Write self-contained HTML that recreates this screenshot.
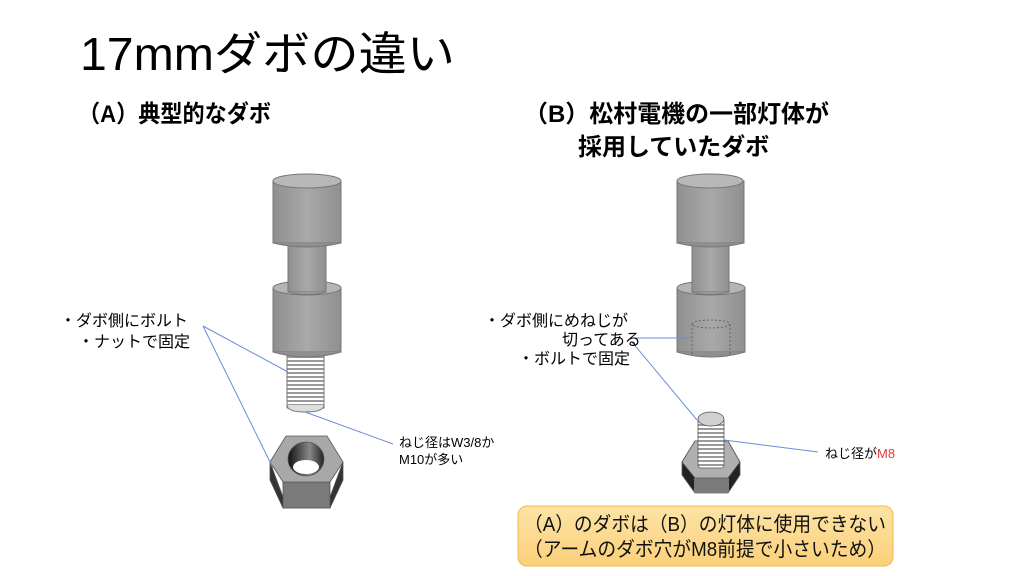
<!DOCTYPE html>
<html><head><meta charset="utf-8"><style>
html,body{margin:0;padding:0;background:#fff;}
svg{display:block;}
text{font-family:"Liberation Sans","Noto Sans CJK JP",sans-serif;}
</style></head><body>
<svg width="1024" height="576" viewBox="0 0 1024 576" xmlns="http://www.w3.org/2000/svg">
<defs>
<linearGradient id="cyl" x1="0" x2="1" y1="0" y2="0">
<stop offset="0" stop-color="#8f8f8f"/><stop offset="0.5" stop-color="#a9a9a9"/><stop offset="1" stop-color="#8f8f8f"/></linearGradient>
<linearGradient id="hole" x1="0" x2="1"><stop offset="0" stop-color="#111"/><stop offset="0.6" stop-color="#888"/><stop offset="1" stop-color="#222"/></linearGradient>
<linearGradient id="box" x1="0" y1="0" x2="0" y2="1"><stop offset="0" stop-color="#fde3a6"/><stop offset="1" stop-color="#fbd07a"/></linearGradient>
<pattern id="thr" width="10" height="4" patternUnits="userSpaceOnUse"><rect width="10" height="4" fill="#fff"/><rect width="10" height="2" fill="#9a9a9a"/></pattern>
</defs>

<text x="80" y="70" font-size="46" fill="#000" textLength="375" lengthAdjust="spacingAndGlyphs">17mmダボの違い</text>
<text x="78" y="122" font-size="24" font-weight="bold" fill="#000" textLength="193" lengthAdjust="spacingAndGlyphs">（A）典型的なダボ</text>
<text x="524" y="122" font-size="24" font-weight="bold" fill="#000" textLength="305" lengthAdjust="spacingAndGlyphs">（B）松村電機の一部灯体が</text>
<text x="578" y="155" font-size="24" font-weight="bold" fill="#000">採用していたダボ</text>

<!-- Left dowel -->
<g stroke="#777" stroke-width="1">
<rect x="287" y="352" width="37" height="56" fill="url(#thr)"/>
<path d="M287 405 Q287 412 305 412 Q324 412 324 405" fill="#ddd"/>
<rect x="273" y="288" width="68" height="64" fill="url(#cyl)"/>
<path d="M273 352 Q307 362 341 352" fill="#8f8f8f"/>
<ellipse cx="307" cy="288" rx="34" ry="7" fill="#b5b5b5"/>
<rect x="288" y="242" width="38" height="50" fill="url(#cyl)"/>
<path d="M288 292 Q307 297 326 292" fill="#999"/>
<rect x="273" y="181" width="68" height="62" fill="url(#cyl)"/>
<path d="M273 243 Q307 251 341 243" fill="#8f8f8f"/>
<ellipse cx="307" cy="181" rx="34" ry="7" fill="#b8b8b8"/>
</g>
<!-- Left nut -->
<g stroke="#555" stroke-width="0.8">
<polygon points="270,462 283,497 330,497 343,462 343,480 330,508 283,508 270,480" fill="#333"/>
<rect x="283" y="482" width="47" height="26" fill="#7a7a7a"/>
<polygon points="270,462 286,436 327,436 343,462 330,482 283,482" fill="#a8a8a8"/>
<ellipse cx="306" cy="459" rx="18" ry="17" fill="url(#hole)"/>
<ellipse cx="306" cy="467" rx="13" ry="7" fill="#fff" stroke="none"/>
</g>

<!-- Right dowel -->
<g stroke="#777" stroke-width="1">
<rect x="677" y="288" width="68" height="64" fill="url(#cyl)"/>
<path d="M677 352 Q711 362 745 352" fill="#8f8f8f"/>
<ellipse cx="711" cy="288" rx="34" ry="7" fill="#b5b5b5"/>
<rect x="692" y="242" width="37" height="50" fill="url(#cyl)"/>
<path d="M692 292 Q710 297 729 292" fill="#999"/>
<rect x="677" y="181" width="67" height="62" fill="url(#cyl)"/>
<path d="M677 243 Q710 251 744 243" fill="#8f8f8f"/>
<ellipse cx="710" cy="181" rx="33" ry="7" fill="#b8b8b8"/>
</g>
<g fill="none" stroke="#555" stroke-width="0.8" stroke-dasharray="2,2">
<ellipse cx="711" cy="324" rx="19" ry="4"/>
<path d="M692 324 V355 M730 324 V355"/>
</g>
<!-- Right bolt hex -->
<g stroke="#555" stroke-width="0.8">
<polygon points="682,462 695,441 728,441 740,462 740,475 728,493 695,493 682,475" fill="#222"/>
<rect x="694" y="478" width="35" height="15" fill="#7a7a7a" stroke="none"/>
<polygon points="682,462 695,441 728,441 740,462 728,478 695,478" fill="#b0b0b0"/>
<rect x="698" y="418" width="26" height="50" rx="3" fill="url(#thr)"/>
<ellipse cx="711" cy="419" rx="13" ry="7" fill="#d0d0d0"/>
</g>

<!-- Leader lines -->
<g stroke="#6b8ed6" stroke-width="1" fill="none">
<line x1="203" y1="326" x2="288" y2="372"/>
<line x1="203" y1="326" x2="273" y2="468"/>
<line x1="305" y1="412" x2="393" y2="444"/>
<line x1="630" y1="338" x2="692" y2="338"/>
<line x1="632" y1="342" x2="697" y2="420"/>
<line x1="724" y1="440" x2="818" y2="452"/>
</g>

<text font-size="16" fill="#000"><tspan x="60" y="326">・ダボ側にボルト</tspan><tspan x="78" y="347">・ナットで固定</tspan></text>
<text font-size="16" fill="#000"><tspan x="484" y="326">・ダボ側にめねじが</tspan><tspan x="562" y="345">切ってある</tspan><tspan x="518" y="364">・ボルトで固定</tspan></text>
<text font-size="13" fill="#000"><tspan x="399" y="447">ねじ径はW3/8か</tspan><tspan x="399" y="464">M10が多い</tspan></text>
<text x="825" y="458" font-size="13" fill="#000">ねじ径が<tspan fill="#e53935">M8</tspan></text>

<rect x="518" y="506" width="375" height="60" rx="9" fill="url(#box)" stroke="#f2b84b" stroke-width="1"/>
<text font-size="20" fill="#111"><tspan x="524" y="531" textLength="362" lengthAdjust="spacingAndGlyphs">（A）のダボは（B）の灯体に使用できない</tspan><tspan x="524" y="556" textLength="362" lengthAdjust="spacingAndGlyphs">（アームのダボ穴がM8前提で小さいため）</tspan></text>
</svg>
</body></html>
